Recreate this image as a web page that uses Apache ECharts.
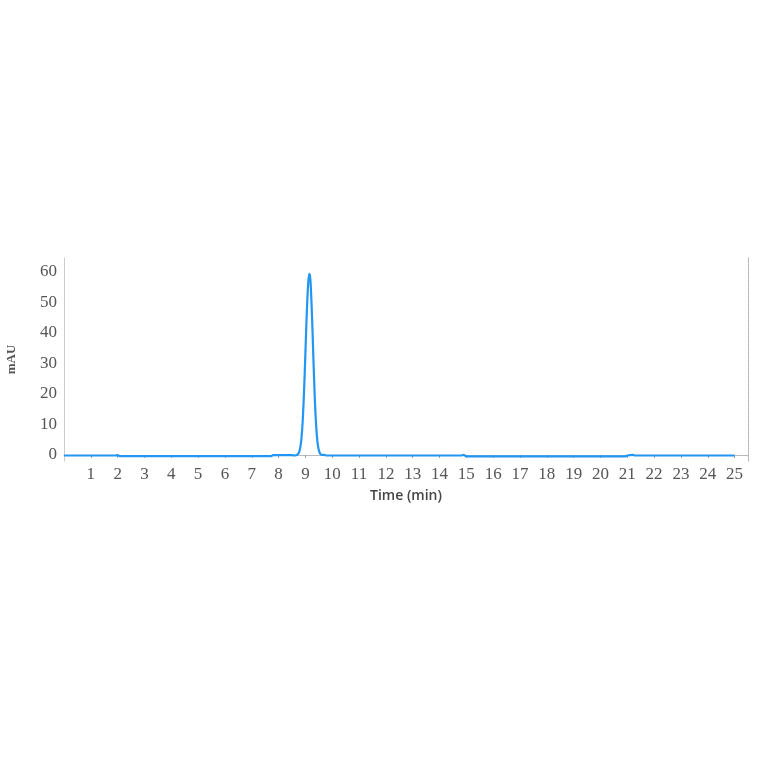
<!DOCTYPE html>
<html><head><meta charset="utf-8">
<script src="https://cdn.jsdelivr.net/npm/echarts@6/dist/echarts.min.js"></script>
<style>html,body{margin:0;padding:0;background:#fff}#c{width:764px;height:764px}</style>
</head><body><div id="c"></div>
<script>
const times = [0, 1.9, 2.0, 2.1, 7.7, 7.8, 8.5, 8.6, 8.65, 8.7, 8.75, 8.8, 8.85, 8.9, 8.95, 9.0, 9.05, 9.1, 9.14, 9.17, 9.2, 9.25, 9.3, 9.35, 9.4, 9.45, 9.5, 9.55, 9.6, 9.7, 9.8, 14.8, 14.9, 15.0, 20.9, 21.0, 21.2, 21.3, 25.0];
const mAU = [-0.2, -0.2, -0.1, -0.4, -0.4, -0.1, -0.1, -0.2, -0.1, 0.1, 0.6, 2.0, 5.2, 11.3, 21.0, 33.5, 46.3, 55.8, 59.4, 58.8, 55.4, 44.6, 31.0, 18.6, 9.6, 4.2, 1.5, 0.4, 0.0, 0.0, -0.2, -0.2, 0.0, -0.5, -0.5, -0.2, 0.0, -0.2, -0.2];
const xTickValues = [1,2,3,4,5,6,7,8,9,10,11,12,13,14,15,16,17,18,19,20,21,22,23,24,25];
const yTickValues = [0, 10, 20, 30, 40, 50, 60];

const chart = echarts.init(document.getElementById('c'));
chart.setOption({
  backgroundColor: '#fff',
  animation: false,
  grid: { left: 64, right: 16, top: 258, bottom: 303, containLabel: false, outerBoundsMode: 'none' },
  xAxis: {
    type: 'value', min: 0, max: 25.5,
    name: 'Time (min)', nameLocation: 'middle', nameGap: 28,
    nameTextStyle: { fontFamily: 'Open Sans', fontSize: 14, fontWeight: 600, color: '#444' },
    axisLine: { show: true, lineStyle: { color: '#bbb', width: 1 } },
    axisTick: { show: true, length: 3, lineStyle: { color: '#999' }, customValues: xTickValues },
    axisLabel: { customValues: xTickValues, fontFamily: 'Liberation Serif', fontSize: 17, color: '#555', margin: 5 },
    splitLine: { show: false }
  },
  yAxis: [{
    type: 'value', min: -2, max: 64.6,
    name: 'mAU', nameLocation: 'middle', nameGap: 46, nameRotate: 90,
    nameTextStyle: { fontFamily: 'Liberation Serif', fontSize: 13, fontWeight: 'bold', color: '#555' },
    axisLine: { show: true, lineStyle: { color: '#ccc', width: 1 } },
    axisTick: { show: false },
    axisLabel: { customValues: yTickValues, fontFamily: 'Liberation Serif', fontSize: 17, color: '#555', margin: 7 },
    splitLine: { show: false }
  }, {
    type: 'value', min: -2, max: 64.6, position: 'right',
    axisLine: { show: true, lineStyle: { color: '#aaa', width: 1, type: 'dotted' } },
    axisTick: { show: false }, axisLabel: { show: false }, splitLine: { show: false }
  }],
  series: [{
    type: 'line',
    data: times.map((t, i) => [t, mAU[i]]),
    showSymbol: false, smooth: 0.3,
    lineStyle: { color: '#2196f3', width: 2.2 },
    itemStyle: { color: '#2196f3' }
  }]
});
</script></body></html>
